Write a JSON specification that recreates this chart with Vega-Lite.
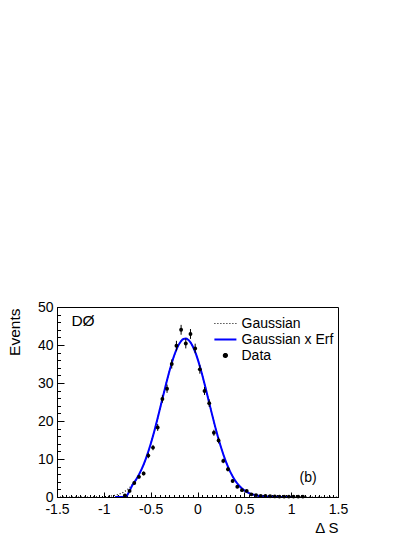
{
  "$schema": "https://vega.github.io/schema/vega-lite/v6.json",
  "width": 281,
  "height": 190,
  "autosize": {"type": "none"},
  "padding": {"left": 57, "top": 307, "right": 77, "bottom": 40},
  "background": "white",
  "datasets": {
    "gauss": [
      {"x": -1.5, "y": 0}, {"x": -1.2, "y": 0}, {"x": -1.1, "y": 0.01}, {"x": -1.05, "y": 0.05},
      {"x": -1.0, "y": 0.1}, {"x": -0.95, "y": 0.19}, {"x": -0.9, "y": 0.36}, {"x": -0.85, "y": 0.66},
      {"x": -0.8, "y": 1.15}, {"x": -0.75, "y": 1.93}, {"x": -0.7, "y": 3.1}, {"x": -0.65, "y": 4.8},
      {"x": -0.6, "y": 7.12}, {"x": -0.55, "y": 10.17}, {"x": -0.5, "y": 13.95}, {"x": -0.45, "y": 18.38},
      {"x": -0.4, "y": 23.27}, {"x": -0.35, "y": 28.31}, {"x": -0.3, "y": 33.09}, {"x": -0.25, "y": 37.16},
      {"x": -0.225, "y": 38.8}, {"x": -0.2, "y": 40.1}, {"x": -0.175, "y": 41.03}, {"x": -0.15, "y": 41.57},
      {"x": -0.125, "y": 41.7}, {"x": -0.1, "y": 41.4}, {"x": -0.075, "y": 40.7}, {"x": -0.05, "y": 39.62},
      {"x": -0.025, "y": 38.18}, {"x": 0.0, "y": 36.43}, {"x": 0.05, "y": 32.18}, {"x": 0.1, "y": 27.31},
      {"x": 0.15, "y": 22.27}, {"x": 0.2, "y": 17.45}, {"x": 0.25, "y": 13.14}, {"x": 0.3, "y": 9.5},
      {"x": 0.35, "y": 6.6}, {"x": 0.4, "y": 4.41}, {"x": 0.45, "y": 2.83}, {"x": 0.5, "y": 1.74},
      {"x": 0.55, "y": 1.03}, {"x": 0.6, "y": 0.59}, {"x": 0.65, "y": 0.32}, {"x": 0.7, "y": 0.17},
      {"x": 0.75, "y": 0.085}, {"x": 0.8, "y": 0.04}, {"x": 0.9, "y": 0.01}, {"x": 1.0, "y": 0},
      {"x": 1.5, "y": 0}
    ],
    "gerf": [
      {"x": -0.88, "y": 0}, {"x": -0.77, "y": 0}, {"x": -0.72, "y": 1.9}, {"x": -0.7, "y": 2.9},
      {"x": -0.65, "y": 4.8}, {"x": -0.6, "y": 7.12}, {"x": -0.55, "y": 10.17}, {"x": -0.5, "y": 13.95},
      {"x": -0.45, "y": 18.38}, {"x": -0.4, "y": 23.27}, {"x": -0.35, "y": 28.31}, {"x": -0.3, "y": 33.09},
      {"x": -0.25, "y": 37.16}, {"x": -0.225, "y": 38.8}, {"x": -0.2, "y": 40.1}, {"x": -0.175, "y": 41.03},
      {"x": -0.15, "y": 41.57}, {"x": -0.125, "y": 41.7}, {"x": -0.1, "y": 41.4}, {"x": -0.075, "y": 40.7},
      {"x": -0.05, "y": 39.62}, {"x": -0.025, "y": 38.18}, {"x": 0.0, "y": 36.43}, {"x": 0.05, "y": 32.18},
      {"x": 0.1, "y": 27.31}, {"x": 0.15, "y": 22.27}, {"x": 0.2, "y": 17.45}, {"x": 0.25, "y": 13.14},
      {"x": 0.3, "y": 9.5}, {"x": 0.35, "y": 6.6}, {"x": 0.4, "y": 4.41}, {"x": 0.45, "y": 2.83},
      {"x": 0.5, "y": 1.74}, {"x": 0.55, "y": 1.03}, {"x": 0.6, "y": 0.59}, {"x": 0.65, "y": 0.32},
      {"x": 0.7, "y": 0.17}, {"x": 0.75, "y": 0.085}, {"x": 0.8, "y": 0.04}, {"x": 0.9, "y": 0.01},
      {"x": 1.0, "y": 0}
    ],
    "pts": [
      {"x": -0.775, "y": 0.4, "e": 0.15}, {"x": -0.725, "y": 1.6, "e": 0.3}, {"x": -0.675, "y": 3.7, "e": 0.4},
      {"x": -0.625, "y": 5.3, "e": 0.5}, {"x": -0.575, "y": 6.2, "e": 0.5}, {"x": -0.525, "y": 10.9, "e": 0.7},
      {"x": -0.475, "y": 13.0, "e": 0.7}, {"x": -0.425, "y": 18.3, "e": 0.9}, {"x": -0.375, "y": 25.8, "e": 1.0},
      {"x": -0.325, "y": 28.5, "e": 1.1}, {"x": -0.275, "y": 35.0, "e": 1.2}, {"x": -0.225, "y": 39.8, "e": 1.3},
      {"x": -0.175, "y": 44.0, "e": 1.3}, {"x": -0.125, "y": 40.4, "e": 1.3}, {"x": -0.075, "y": 42.9, "e": 1.3},
      {"x": -0.025, "y": 39.1, "e": 1.25}, {"x": 0.025, "y": 33.6, "e": 1.15}, {"x": 0.075, "y": 27.9, "e": 1.05},
      {"x": 0.125, "y": 24.7, "e": 1.0}, {"x": 0.175, "y": 16.9, "e": 0.8}, {"x": 0.225, "y": 14.9, "e": 0.8},
      {"x": 0.275, "y": 9.5, "e": 0.6}, {"x": 0.325, "y": 7.3, "e": 0.55}, {"x": 0.375, "y": 4.2, "e": 0.4},
      {"x": 0.425, "y": 2.7, "e": 0.35}, {"x": 0.475, "y": 1.8, "e": 0.3}, {"x": 0.525, "y": 1.6, "e": 0.25},
      {"x": 0.575, "y": 0.7, "e": 0.2}, {"x": 0.625, "y": 0.5, "e": 0.15}, {"x": 0.675, "y": 0.3, "e": 0.1},
      {"x": 0.725, "y": 0.3, "e": 0.1}, {"x": 0.775, "y": 0.2, "e": 0.1}, {"x": 0.825, "y": 0.15, "e": 0.1},
      {"x": 0.875, "y": 0.1, "e": 0.05}, {"x": 0.925, "y": 0.1, "e": 0.05}, {"x": 0.975, "y": 0.1, "e": 0.05},
      {"x": 1.025, "y": 0.1, "e": 0.05}, {"x": 1.075, "y": 0.1, "e": 0.05}, {"x": 1.125, "y": 0.1, "e": 0.05}
    ]
  },
  "config": {
    "font": "Liberation Sans",
    "view": {"stroke": "black", "strokeWidth": 1},
    "axis": {
      "grid": false,
      "domainColor": "black",
      "tickColor": "black",
      "labelColor": "black",
      "titleColor": "black",
      "labelFont": "Liberation Sans",
      "titleFont": "Liberation Sans",
      "titleFontWeight": "normal"
    },
    "legend": {
      "orient": "none",
      "legendX": 161.4,
      "legendY": 9.5,
      "padding": 0,
      "symbolSize": 225,
      "labelOffset": 9.1,
      "labelFont": "Liberation Sans",
      "labelFontSize": 14,
      "labelColor": "black",
      "rowPadding": 2
    }
  },
  "resolve": {"axis": {"x": "independent", "y": "independent"}},
  "layer": [
    {
      "data": {"name": "gauss"},
      "mark": {"type": "line", "strokeDash": [1, 2], "strokeWidth": 1.2, "interpolate": "monotone", "clip": true},
      "encoding": {
        "x": {
          "field": "x", "type": "quantitative",
          "scale": {"domain": [-1.5, 1.5], "nice": false, "zero": false},
          "axis": {
            "orient": "bottom", "values": [-1.5,-1.45,-1.4,-1.35,-1.3,-1.25,-1.2,-1.15,-1.1,-1.05,-1,-0.95,-0.9,-0.85,-0.8,-0.75,-0.7,-0.65,-0.6,-0.55,-0.5,-0.45,-0.4,-0.35,-0.3,-0.25,-0.2,-0.15,-0.1,-0.05,0,0.05,0.1,0.15,0.2,0.25,0.3,0.35,0.4,0.45,0.5,0.55,0.6,0.65,0.7,0.75,0.8,0.85,0.9,0.95,1,1.05,1.1,1.15,1.2,1.25,1.3,1.35,1.4,1.45,1.5],
            "labels": false, "domain": false, "tickSize": -2.5, "title": null
          }
        },
        "y": {
          "field": "y", "type": "quantitative",
          "scale": {"domain": [0, 50], "nice": false},
          "axis": {
            "orient": "left", "values": [0,2,4,6,8,10,12,14,16,18,20,22,24,26,28,30,32,34,36,38,40,42,44,46,48,50],
            "labels": false, "domain": false, "tickSize": -3.5, "title": null
          }
        },
        "color": {
          "datum": "Gaussian",
          "scale": {"domain": ["Gaussian", "Gaussian x Erf", "Data"], "range": ["black", "#0000ff", "black"]},
          "legend": {
            "title": null,
            "encode": {
              "symbols": {
                "update": {
                  "size": {"signal": "datum.value === 'Data' ? 16 : 484"},
                  "shape": {"signal": "datum.value === 'Data' ? 'circle' : 'stroke'"},
                  "strokeDash": {"signal": "datum.value === 'Gaussian' ? [1, 2] : [1, 0]"},
                  "stroke": {"signal": "datum.value === 'Gaussian x Erf' ? '#0000ff' : (datum.value === 'Data' ? 'transparent' : 'black')"},
                  "fill": {"signal": "datum.value === 'Data' ? 'black' : 'transparent'"},
                  "strokeWidth": {"signal": "datum.value === 'Gaussian x Erf' ? 2 : 1.2"},
                  "opacity": {"value": 1}
                }
              }
            }
          }
        }
      }
    },
    {
      "data": {"name": "gerf"},
      "mark": {"type": "line", "strokeWidth": 2, "interpolate": "monotone", "clip": true},
      "encoding": {
        "x": {
          "field": "x", "type": "quantitative",
          "axis": {
            "orient": "bottom", "values": [-1.5, -1, -0.5, 0, 0.5, 1, 1.5],
            "labelExpr": "'' + datum.value", "labelFontSize": 14, "labelPadding": 10,
            "tickSize": -5, "labelFlush": false, "labelOverlap": false,
            "title": "Δ S", "titleFontSize": 15, "titleAnchor": "end", "titleAlign": "right",
            "titleBaseline": "alphabetic", "titleX": 281, "titleY": 35.5
          }
        },
        "y": {
          "field": "y", "type": "quantitative",
          "axis": {
            "orient": "left", "values": [0, 10, 20, 30, 40, 50],
            "labelFontSize": 14, "labelPadding": 11, "tickSize": -7,
            "title": "Events", "titleFontSize": 15.5, "titleAngle": -90, "titleAlign": "right",
            "titleAnchor": "end", "titleBaseline": "alphabetic", "titleX": -38, "titleY": 1
          }
        },
        "color": {"datum": "Gaussian x Erf"}
      }
    },
    {
      "data": {"name": "pts"},
      "mark": {"type": "errorbar", "color": "black", "thickness": 1},
      "encoding": {
        "x": {"field": "x", "type": "quantitative", "axis": null},
        "y": {"field": "y", "type": "quantitative", "axis": null},
        "yError": {"field": "e"}
      }
    },
    {
      "data": {"name": "pts"},
      "mark": {"type": "errorbar", "color": "black", "thickness": 1},
      "encoding": {
        "y": {"field": "y", "type": "quantitative", "axis": null},
        "x": {"field": "x", "type": "quantitative", "axis": null},
        "xError": {"value": 0.025}
      }
    },
    {
      "data": {"name": "pts"},
      "mark": {"type": "point", "filled": true, "size": 15, "opacity": 1},
      "encoding": {
        "x": {"field": "x", "type": "quantitative", "axis": null},
        "y": {"field": "y", "type": "quantitative", "axis": null},
        "color": {"datum": "Data"}
      }
    },
    {
      "data": {"values": [{}]},
      "mark": {"type": "text", "text": "DØ", "font": "Liberation Sans", "fontSize": 15.5, "align": "left", "baseline": "alphabetic", "color": "black"},
      "encoding": {
        "x": {"datum": -1.346, "type": "quantitative", "axis": null},
        "y": {"datum": 45, "type": "quantitative", "axis": null}
      }
    },
    {
      "data": {"values": [{}]},
      "mark": {"type": "text", "text": "(b)", "font": "Liberation Sans", "fontSize": 14, "align": "left", "baseline": "alphabetic", "color": "black"},
      "encoding": {
        "x": {"datum": 1.09, "type": "quantitative", "axis": null},
        "y": {"datum": 4.0, "type": "quantitative", "axis": null}
      }
    }
  ]
}
